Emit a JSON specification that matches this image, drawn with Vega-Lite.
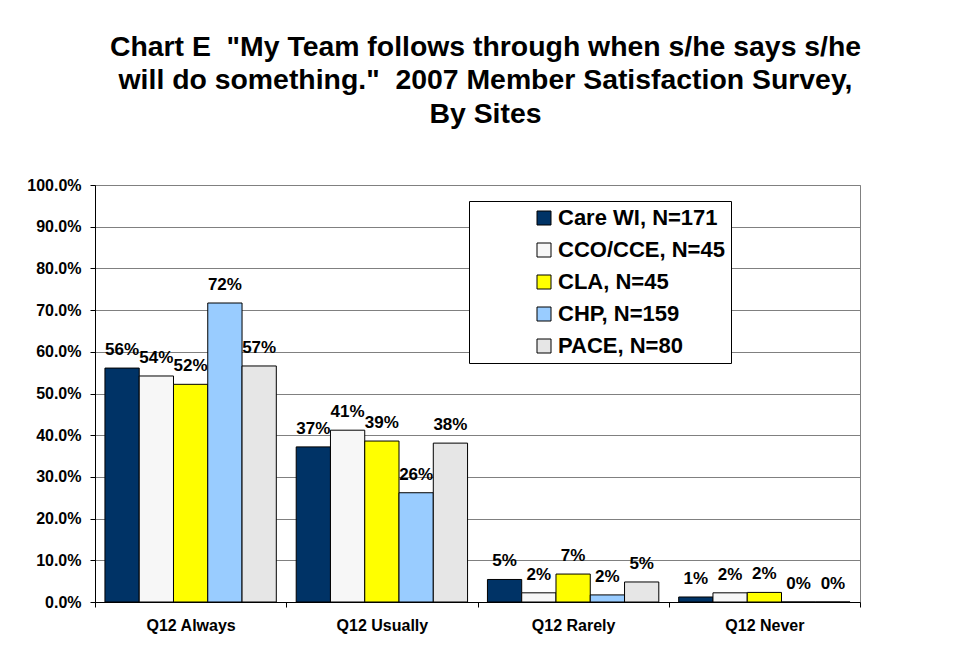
{
  "$schema": "https://vega.github.io/schema/vega-lite/v6.json",
  "width": 765,
  "height": 417,
  "autosize": "none",
  "padding": {"left": 95, "top": 185, "right": 93, "bottom": 49},
  "background": "white",
  "title": {
    "text": ["Chart E \u00a0\"My Team follows through when s/he says s/he", "will do something.\" \u00a02007 Member Satisfaction Survey,", "By Sites"],
    "font": "Liberation Sans",
    "fontSize": 28.4,
    "fontWeight": "bold",
    "lineHeight": 33.5,
    "anchor": "middle",
    "dx": 8,
    "offset": 48,
    "color": "black"
  },
  "data": {
    "values": [
      {"question": "Q12 Always", "site": "Care WI, N=171", "value": 0.561},
      {"question": "Q12 Always", "site": "CCO/CCE, N=45", "value": 0.542},
      {"question": "Q12 Always", "site": "CLA, N=45", "value": 0.522},
      {"question": "Q12 Always", "site": "CHP, N=159", "value": 0.717},
      {"question": "Q12 Always", "site": "PACE, N=80", "value": 0.566},
      {"question": "Q12 Usually", "site": "Care WI, N=171", "value": 0.372},
      {"question": "Q12 Usually", "site": "CCO/CCE, N=45", "value": 0.412},
      {"question": "Q12 Usually", "site": "CLA, N=45", "value": 0.386},
      {"question": "Q12 Usually", "site": "CHP, N=159", "value": 0.262},
      {"question": "Q12 Usually", "site": "PACE, N=80", "value": 0.381},
      {"question": "Q12 Rarely", "site": "Care WI, N=171", "value": 0.054},
      {"question": "Q12 Rarely", "site": "CCO/CCE, N=45", "value": 0.022},
      {"question": "Q12 Rarely", "site": "CLA, N=45", "value": 0.067},
      {"question": "Q12 Rarely", "site": "CHP, N=159", "value": 0.017},
      {"question": "Q12 Rarely", "site": "PACE, N=80", "value": 0.048},
      {"question": "Q12 Never", "site": "Care WI, N=171", "value": 0.012},
      {"question": "Q12 Never", "site": "CCO/CCE, N=45", "value": 0.022},
      {"question": "Q12 Never", "site": "CLA, N=45", "value": 0.023},
      {"question": "Q12 Never", "site": "CHP, N=159", "value": 0},
      {"question": "Q12 Never", "site": "PACE, N=80", "value": 0}
    ]
  },
  "encoding": {
    "x": {
      "field": "question",
      "type": "nominal",
      "sort": ["Q12 Always", "Q12 Usually", "Q12 Rarely", "Q12 Never"],
      "scale": {"paddingInner": 0, "paddingOuter": 0},
      "axis": {
        "title": null,
        "labelAngle": 0,
        "tickBand": "extent",
        "tickSize": 5,
        "tickColor": "black",
        "domainColor": "black",
        "labelPadding": 10,
        "labelFont": "Liberation Sans",
        "labelFontSize": 16,
        "labelFontWeight": "bold",
        "labelColor": "black",
        "grid": false
      }
    },
    "xOffset": {
      "field": "site",
      "type": "nominal",
      "sort": ["Care WI, N=171", "CCO/CCE, N=45", "CLA, N=45", "CHP, N=159", "PACE, N=80"],
      "scale": {"paddingInner": 0, "paddingOuter": 0.29}
    },
    "y": {
      "field": "value",
      "type": "quantitative",
      "scale": {"domain": [0, 1], "nice": false},
      "axis": {
        "title": null,
        "values": [0, 0.1, 0.2, 0.3, 0.4, 0.5, 0.6, 0.7, 0.8, 0.9, 1.0],
        "format": ".1%",
        "tickSize": 5,
        "tickColor": "black",
        "domainColor": "black",
        "labelPadding": 9,
        "labelFont": "Liberation Sans",
        "labelFontSize": 16,
        "labelFontWeight": "bold",
        "labelColor": "black",
        "grid": true,
        "gridColor": "#808080",
        "gridWidth": 1
      }
    }
  },
  "layer": [
    {
      "mark": {"type": "bar", "stroke": "black", "strokeWidth": 1},
      "encoding": {
        "color": {
          "field": "site",
          "type": "nominal",
          "scale": {
            "domain": ["Care WI, N=171", "CCO/CCE, N=45", "CLA, N=45", "CHP, N=159", "PACE, N=80"],
            "range": ["#003366", "#f7f7f7", "#ffff00", "#99ccff", "#e6e6e6"]
          },
          "legend": {
            "title": null,
            "orient": "none",
            "legendX": 374,
            "legendY": 16,
            "strokeColor": "black",
            "fillColor": "white",
            "padding": 6,
            "symbolOffset": 58,
            "symbolType": "square",
            "symbolSize": 196,
            "symbolStrokeColor": "black",
            "symbolStrokeWidth": 1,
            "symbolOpacity": 1,
            "labelFont": "Liberation Sans",
            "labelFontSize": 22,
            "labelFontWeight": "bold",
            "labelColor": "black",
            "labelOffset": 3,
            "labelLimit": 400,
            "rowPadding": 10
          }
        }
      }
    },
    {
      "mark": {
        "type": "text",
        "baseline": "alphabetic",
        "align": "center",
        "dy": -13,
        "font": "Liberation Sans",
        "fontSize": 17,
        "fontWeight": "bold",
        "color": "black"
      },
      "encoding": {
        "text": {"field": "value", "type": "quantitative", "format": ".0%"}
      }
    }
  ],
  "config": {
    "view": {"stroke": "#808080", "strokeWidth": 1}
  }
}
